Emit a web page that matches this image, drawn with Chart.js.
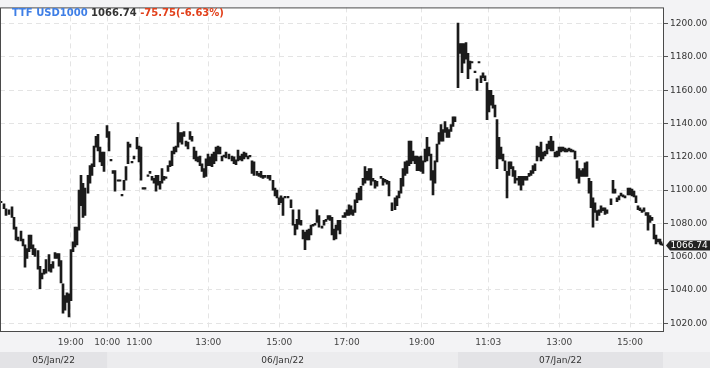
<!DOCTYPE html>
<html>
<head>
<meta charset="utf-8">
<title>TTF USD1000</title>
<script src="https://cdn.jsdelivr.net/npm/chart.js@4.4.1/dist/chart.umd.min.js"></script>
<style>
  html, body { margin: 0; padding: 0; background: #f3f3f5; }
  #wrap { width: 710px; height: 368px; }
</style>
</head>
<body>
<div id="wrap"><canvas id="chart" width="710" height="368"></canvas></div>
<script>
// ── Data ────────────────────────────────────────────────────────
const SYMBOL = 'TTF USD1000';
const LAST = 1066.74;
const CHANGE = '-75.75(-6.63%)';

// time slot of each bar (sessions squeezed together, 0..664)
const pos = [
  1, 4, 6, 9, 12, 14, 16, 18, 21, 23,
  25, 27, 29, 31, 33, 35, 38, 40, 42, 44,
  46, 49, 51, 53, 55, 57, 59, 61, 63, 65,
  67, 69, 71, 73, 75, 77, 79, 81, 83, 85,
  88, 90, 92, 94, 96, 98, 100, 102, 104, 107,
  109, 111, 113, 115, 118, 120, 122, 124, 126, 128,
  130, 132, 134, 137, 139, 141, 143, 145, 148, 150,
  152, 154, 156, 158, 160, 162, 164, 166, 168, 170,
  172, 174, 176, 178, 180, 182, 184, 186, 188, 190,
  192, 194, 196, 198, 200, 202, 204, 206, 208, 210,
  212, 214, 216, 218, 220, 222, 224, 226, 229, 232,
  234, 236, 238, 240, 242, 244, 246, 248, 250, 252,
  254, 257, 259, 261, 263, 265, 268, 270, 273, 275,
  277, 279, 281, 283, 285, 288, 291, 293, 295, 297,
  299, 301, 303, 305, 307, 309, 311, 313, 315, 317,
  319, 322, 324, 326, 328, 330, 332, 334, 336, 338,
  340, 343, 345, 347, 349, 351, 353, 355, 357, 359,
  361, 363, 365, 367, 369, 371, 373, 375, 377, 381,
  383, 385, 387, 389, 392, 395, 397, 399, 401, 403,
  405, 407, 409, 411, 413, 415, 417, 419, 421, 423,
  425, 427, 429, 431, 433, 435, 437, 439, 441, 443,
  445, 447, 449, 451, 453, 455, 458, 460, 462, 464,
  466, 468, 470, 472, 475, 477, 479, 481, 483, 485,
  487, 489, 491, 493, 495, 497, 499, 501, 503, 505,
  507, 509, 511, 513, 515, 517, 519, 521, 523, 525,
  527, 529, 531, 533, 535, 537, 539, 541, 543, 545,
  547, 549, 551, 553, 555, 557, 559, 561, 563, 565,
  567, 569, 571, 573, 575, 577, 579, 581, 583, 585,
  587, 589, 591, 593, 595, 597, 599, 601, 603, 605,
  607, 611, 613, 615, 617, 619, 621, 623, 625, 628,
  630, 632, 634, 636, 638, 640, 642, 644, 646, 648,
  650, 652, 654, 656, 658, 660, 661, 663
];

const highs = [
  1092.9, 1091.8, 1088.8, 1088.2, 1090.0, 1083.6, 1077.7, 1071.8, 1075.3, 1070.6,
  1067.1, 1064.8, 1073.0, 1073.0, 1067.1, 1064.8, 1063.6, 1054.2, 1050.1, 1052.4,
  1058.3, 1061.2, 1055.4, 1057.1, 1062.4, 1061.8, 1061.8, 1057.7, 1043.6, 1036.6,
  1038.3, 1037.7, 1064.2, 1068.9, 1077.7, 1077.7, 1100.0, 1108.8, 1104.1, 1101.2,
  1108.8, 1114.7, 1115.8, 1126.4, 1132.3, 1133.5, 1125.8, 1122.9, 1122.9, 1138.7,
  1135.2, 1118.2, 1111.7, 1111.7, 1105.9, 1105.9, 1097.1, 1105.9, 1114.1, 1128.8,
  1127.6, 1117.0, 1120.5, 1131.7, 1126.4, 1125.8, 1101.2, 1101.2, 1108.8, 1111.2,
  1108.2, 1107.0, 1108.8, 1108.8, 1105.3, 1112.9, 1108.2, 1107.6, 1114.7, 1117.6,
  1123.5, 1125.8, 1126.4, 1140.5, 1134.6, 1134.6, 1135.2, 1129.4, 1128.8, 1135.2,
  1132.3, 1125.8, 1123.5, 1120.0, 1120.5, 1115.8, 1112.9, 1118.8, 1121.7, 1120.0,
  1121.7, 1122.9, 1125.8, 1126.4, 1125.8, 1120.5, 1121.1, 1122.9, 1121.7, 1120.5,
  1120.0, 1118.2, 1124.1, 1120.5, 1121.7, 1122.9, 1122.3, 1120.5, 1120.5, 1117.6,
  1117.0, 1111.2, 1110.0, 1111.2, 1108.8, 1108.8, 1108.8, 1108.8, 1105.9, 1101.2,
  1100.0, 1095.3, 1096.5, 1095.3, 1095.9, 1095.9, 1094.1, 1088.2, 1079.4, 1082.4,
  1088.2, 1081.8, 1075.9, 1074.7, 1075.9, 1076.5, 1078.9, 1079.4, 1080.0, 1088.2,
  1084.7, 1078.3, 1081.8, 1082.4, 1084.7, 1084.7, 1083.6, 1076.5, 1078.9, 1081.8,
  1081.8, 1084.7, 1086.5, 1088.2, 1091.2, 1090.6, 1088.2, 1094.1, 1098.2, 1101.2,
  1102.3, 1107.0, 1114.1, 1111.2, 1112.9, 1112.9, 1107.0, 1105.9, 1105.3, 1108.2,
  1107.0, 1106.5, 1105.9, 1105.3, 1092.4, 1095.3, 1096.5, 1099.4, 1107.0, 1112.9,
  1117.0, 1117.6, 1129.4, 1129.4, 1123.5, 1120.5, 1120.5, 1120.0, 1120.5, 1117.6,
  1124.7, 1131.7, 1125.8, 1121.7, 1111.7, 1117.6, 1127.6, 1134.6, 1139.3, 1136.4,
  1141.1, 1137.6, 1136.4, 1139.3, 1144.0, 1144.0, 1200.4, 1188.1, 1188.1, 1188.1,
  1188.7, 1182.2, 1177.5, 1177.0, 1171.6, 1166.9, 1177.0, 1168.7, 1170.5, 1168.7,
  1164.6, 1159.9, 1159.9, 1157.0, 1151.1, 1142.3, 1131.7, 1125.8, 1121.7, 1117.6,
  1111.2, 1117.0, 1117.0, 1114.1, 1111.7, 1107.0, 1108.2, 1108.2, 1108.2, 1108.2,
  1108.2, 1110.0, 1111.7, 1114.7, 1115.8, 1126.4, 1125.8, 1128.8, 1122.9, 1123.5,
  1127.6, 1129.4, 1132.3, 1129.4, 1122.9, 1123.5, 1125.8, 1125.8, 1125.8, 1125.2,
  1124.7, 1125.2, 1124.7, 1124.1, 1123.5, 1117.6, 1112.9, 1111.7, 1112.9, 1116.4,
  1117.0, 1107.0, 1105.3, 1095.3, 1092.4, 1087.7, 1088.2, 1090.6, 1089.4, 1089.4,
  1088.2, 1094.7, 1105.9, 1100.6, 1095.3, 1096.5, 1098.2, 1097.1, 1096.5, 1101.2,
  1101.2, 1100.6, 1099.4, 1096.5, 1090.6, 1089.4, 1088.2, 1089.4, 1086.5, 1086.5,
  1084.7, 1083.6, 1079.4, 1073.0, 1070.6, 1070.6, 1068.9, 1067.7
];

const lows = [
  1092.4, 1088.8, 1084.7, 1085.3, 1083.6, 1076.5, 1070.0, 1069.5, 1069.5, 1066.5,
  1053.6, 1058.9, 1063.0, 1064.8, 1061.2, 1060.1, 1052.4, 1040.7, 1046.6, 1049.5,
  1050.1, 1051.3, 1050.7, 1053.0, 1058.9, 1058.9, 1054.2, 1044.2, 1026.0, 1027.8,
  1032.5, 1023.7, 1033.6, 1063.0, 1065.9, 1067.1, 1075.9, 1090.6, 1083.6, 1084.7,
  1098.2, 1104.1, 1108.8, 1114.1, 1125.8, 1123.5, 1117.0, 1114.7, 1111.2, 1131.7,
  1123.5, 1117.6, 1110.0, 1099.4, 1105.3, 1105.3, 1096.5, 1100.0, 1105.9, 1115.8,
  1125.8, 1116.4, 1118.8, 1124.7, 1117.0, 1105.9, 1100.6, 1100.6, 1108.2, 1110.0,
  1105.9, 1104.1, 1099.4, 1102.9, 1100.6, 1104.1, 1105.9, 1107.0, 1111.2, 1114.1,
  1114.7, 1121.7, 1122.9, 1125.8, 1128.8, 1127.6, 1132.3, 1126.4, 1124.7, 1130.5,
  1129.4, 1118.8, 1117.6, 1117.0, 1114.7, 1111.2, 1107.6, 1108.2, 1114.7, 1114.7,
  1114.1, 1115.8, 1117.6, 1121.7, 1121.7, 1117.6, 1120.0, 1119.4, 1118.8, 1117.6,
  1115.8, 1115.3, 1117.6, 1118.2, 1117.6, 1118.8, 1120.0, 1118.8, 1120.0, 1110.0,
  1108.8, 1108.8, 1108.2, 1107.6, 1107.0, 1107.6, 1107.0, 1105.9, 1100.0, 1096.5,
  1095.3, 1091.2, 1092.4, 1084.7, 1095.3, 1095.3, 1089.4, 1078.9, 1073.0, 1076.5,
  1079.4, 1078.9, 1070.6, 1064.2, 1070.0, 1070.0, 1073.0, 1078.3, 1078.9, 1080.6,
  1077.7, 1077.1, 1078.9, 1081.2, 1082.4, 1081.8, 1073.0, 1070.0, 1070.6, 1075.9,
  1073.6, 1083.6, 1083.6, 1084.7, 1084.7, 1085.3, 1084.7, 1086.5, 1092.4, 1094.1,
  1094.1, 1102.9, 1104.1, 1105.9, 1105.9, 1102.9, 1105.3, 1101.2, 1102.3, 1107.0,
  1102.9, 1104.7, 1103.5, 1096.5, 1087.7, 1088.2, 1090.6, 1095.3, 1098.2, 1102.3,
  1108.8, 1110.0, 1114.7, 1115.8, 1117.6, 1115.8, 1111.7, 1111.7, 1111.2, 1110.0,
  1117.0, 1117.6, 1120.5, 1105.9, 1097.1, 1104.1, 1117.0, 1127.6, 1129.4, 1129.4,
  1134.6, 1131.7, 1131.7, 1135.2, 1138.2, 1141.1, 1161.6, 1182.2, 1170.5, 1176.3,
  1178.7, 1166.9, 1172.8, 1176.4, 1170.5, 1159.9, 1176.4, 1164.6, 1167.5, 1165.8,
  1142.3, 1147.0, 1151.1, 1149.3, 1144.0, 1112.9, 1118.8, 1118.8, 1117.6, 1111.7,
  1095.3, 1108.8, 1112.9, 1108.2, 1104.1, 1105.9, 1102.9, 1100.0, 1102.9, 1105.9,
  1105.9, 1108.2, 1108.8, 1110.0, 1111.7, 1117.6, 1120.0, 1117.6, 1118.8, 1120.5,
  1121.7, 1124.7, 1123.5, 1123.5, 1120.0, 1120.0, 1120.5, 1122.9, 1123.5, 1122.9,
  1122.9, 1123.5, 1122.9, 1122.9, 1118.8, 1107.0, 1104.1, 1108.2, 1108.2, 1108.2,
  1108.2, 1098.2, 1089.4, 1077.7, 1086.5, 1081.8, 1084.7, 1086.5, 1087.7, 1085.3,
  1085.9, 1091.2, 1098.2, 1098.2, 1093.0, 1094.1, 1096.5, 1095.9, 1095.3, 1097.1,
  1097.1, 1096.5, 1095.9, 1092.4, 1088.2, 1087.7, 1086.5, 1087.1, 1084.7, 1075.9,
  1080.6, 1081.8, 1070.6, 1067.7, 1068.9, 1067.7, 1067.1, 1066.7
];

// axis labels
const timePos    = [70.7, 107.3, 139.3, 208.3, 279.3, 346.7, 421.7, 488.3, 559.3, 630];
const timeLabels = ['19:00', '10:00', '11:00', '13:00', '15:00', '17:00', '19:00', '11:03', '13:00', '15:00'];
const dayLabels  = ['05/Jan/22', '06/Jan/22', '07/Jan/22'];
const dayStart   = [0, 107.3, 458];
const dayEnd     = [107.3, 458, 663];
const yTicks     = [1020, 1040, 1060, 1080, 1100, 1120, 1140, 1160, 1180, 1200];

const FONT = 'DejaVu Sans';

// ── Decorations: background, date strip, frame, header, last price ──
const decor = {
  id: 'decor',
  beforeDraw(chart) {
    const { ctx, chartArea: a, width, height } = chart;
    const xs = chart.scales.x;
    ctx.save();
    ctx.fillStyle = '#f3f3f5';
    ctx.fillRect(0, 0, width, height);
    ctx.fillStyle = '#ffffff';
    ctx.fillRect(a.left, a.top, a.right - a.left, a.bottom - a.top);

    // date strip
    const top = 352;
    ctx.fillStyle = '#ececee';
    ctx.fillRect(0, top, width, height - top);
    ctx.font = '9px "' + FONT + '"';
    ctx.textAlign = 'center';
    ctx.textBaseline = 'middle';
    dayLabels.forEach(function (d, i) {
      const x0 = xs.getPixelForValue(dayStart[i]);
      const x1 = xs.getPixelForValue(dayEnd[i]);
      ctx.fillStyle = (i % 2 === 0) ? '#e3e3e6' : '#ececee';
      ctx.fillRect(x0, top, x1 - x0, height - top);
      ctx.fillStyle = '#333';
      ctx.fillText(d, (x0 + x1) / 2, top + 8.5);
    });
    ctx.restore();
  },
  afterDraw(chart) {
    const { ctx, chartArea: a } = chart;
    const ys = chart.scales.y;
    ctx.save();

    // plot frame
    ctx.strokeStyle = '#4a4a4a';
    ctx.lineWidth = 1;
    ctx.strokeRect(a.left + 0.5, a.top + 0.5, a.right - a.left - 1, a.bottom - a.top - 1);

    // header
    ctx.font = 'bold 10px "' + FONT + '"';
    ctx.textBaseline = 'alphabetic';
    ctx.textAlign = 'left';
    let x = 12;
    const parts = [
      [SYMBOL, '#3f7fe6'],
      [LAST.toFixed(2), '#333333'],
      [CHANGE, '#e2401b']
    ];
    parts.forEach(function (p) {
      ctx.fillStyle = p[1];
      ctx.fillText(p[0], x, 15.5);
      x += ctx.measureText(p[0] + ' ').width;
    });

    // last price marker
    const y = Math.round(ys.getPixelForValue(LAST)) + 0.5;
    const r = a.right;
    ctx.fillStyle = '#222';
    ctx.beginPath();
    ctx.moveTo(r + 2, y);
    ctx.lineTo(r + 6, y - 5);
    ctx.lineTo(710, y - 5);
    ctx.lineTo(710, y + 5);
    ctx.lineTo(r + 6, y + 5);
    ctx.closePath();
    ctx.fill();
    ctx.fillStyle = '#fff';
    ctx.font = '9px "' + FONT + '"';
    ctx.textBaseline = 'middle';
    ctx.fillText(LAST.toFixed(2), r + 6.5, y + 0.5);
    ctx.restore();
  }
};

new Chart(document.getElementById('chart'), {
  type: 'bar',
  data: {
    datasets: [{
      label: SYMBOL,
      data: pos.map(function (p, i) { return { x: p, y: [lows[i], highs[i]] }; }),
      backgroundColor: '#1b1b1b',
      borderWidth: 0,
      borderSkipped: false,
      barThickness: 2,
      minBarLength: 1.5
    }]
  },
  options: {
    responsive: false,
    animation: false,
    devicePixelRatio: 1,
    layout: { padding: 0 },
    plugins: {
      legend: { display: false },
      tooltip: { enabled: false }
    },
    scales: {
      x: {
        type: 'linear',
        min: 0,
        max: 664,
        offset: false,
        grid: { offset: false, color: '#e4e4e4', drawTicks: false },
        border: { display: false, dash: [5, 4] },
        afterBuildTicks: function (s) { s.ticks = timePos.map(function (v) { return { value: v }; }); },
        afterFit: function (s) { s.height = 36; },
        ticks: {
          autoSkip: false,
          maxRotation: 0,
          padding: 5,
          color: '#444',
          font: { family: FONT, size: 9 },
          callback: function (v, i) { return timeLabels[i]; }
        }
      },
      y: {
        position: 'right',
        min: 1014.7,
        max: 1209.8,
        grid: { color: '#e4e4e4', tickColor: '#555', tickLength: 4 },
        border: { display: false, dash: [5, 4] },
        afterBuildTicks: function (s) { s.ticks = yTicks.map(function (v) { return { value: v }; }); },
        afterFit: function (s) { s.width = 46; },
        ticks: {
          padding: 2,
          color: '#333',
          font: { family: FONT, size: 9 },
          callback: function (v) { return Number(v).toFixed(2); }
        }
      }
    }
  },
  plugins: [decor]
});
</script>
</body>
</html>
